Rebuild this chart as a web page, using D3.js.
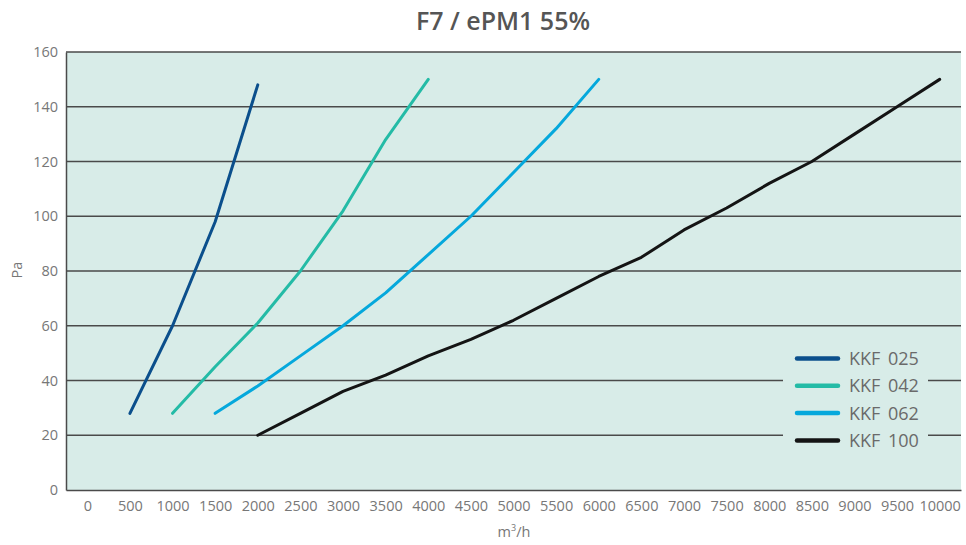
<!DOCTYPE html>
<html><head><meta charset="utf-8">
<script src="https://cdn.jsdelivr.net/npm/d3@7"></script>
<style>body{margin:0;background:#fff}svg{display:block}text{font-family:"Open Sans",sans-serif}</style>
</head><body>
<script>
const title = "F7 / ePM1 55%";
const yLabel = "Pa";
const xLabelMain = "m";
const xTicks = [0,500,1000,1500,2000,2500,3000,3500,4000,4500,5000,5500,6000,6500,7000,7500,8000,8500,9000,9500,10000];
const yTicks = [0,20,40,60,80,100,120,140,160];
const seriesNames = ["KKF 025","KKF 042","KKF 062","KKF 100"];
const seriesColors = ["#0b4f8c","#24bba6","#05a8dc","#141414"];
const kkf025 = [[500,28],[1000,60],[1500,98],[2000,148]];
const kkf042 = [[1000,28],[1500,45],[2000,61],[2500,80],[3000,102],[3500,128],[4000,150]];
const kkf062 = [[1500,28],[2000,38],[2500,49],[3000,60],[3500,72],[4000,86],[4500,100],[5000,116],[5500,132],[6000,150]];
const kkf100 = [[2000,20],[2500,28],[3000,36],[3500,42],[4000,49],[4500,55],[5000,62],[5500,70],[6000,78],[6500,85],[7000,95],[7500,103],[8000,112],[8500,120],[9000,130],[9500,140],[10000,150]];
const seriesData = [kkf025,kkf042,kkf062,kkf100];

const W=966,H=545;
const L=66,R=961,T=52,B=490;
const svg=d3.select("body").append("svg").attr("width",W).attr("height",H);
const x=d3.scaleLinear().domain([-250,10250]).range([L,R]);
const y=d3.scaleLinear().domain([0,160]).range([B,T]);

svg.append("rect").attr("x",L).attr("y",T).attr("width",R-L).attr("height",B-T).attr("fill","#d8ece8");

// grid
svg.append("g").selectAll("line").data(yTicks.filter(d=>d>0)).join("line")
  .attr("x1",L).attr("x2",R).attr("y1",d=>y(d)).attr("y2",d=>y(d))
  .attr("stroke","#4a4a4a").attr("stroke-width",1.3);

// axes
const ya=svg.append("g").attr("transform",`translate(${L},0)`)
  .call(d3.axisLeft(y).tickValues(yTicks).tickSize(0).tickPadding(8));
ya.select(".domain").attr("stroke","#4a4a4a").attr("stroke-width",1.5);
ya.selectAll("text").attr("fill","#777").attr("font-size",14.5).attr("font-family","Open Sans");

const xa=svg.append("g").attr("transform",`translate(0,${B})`)
  .call(d3.axisBottom(x).tickValues(xTicks).tickFormat(d3.format("d")).tickSize(0).tickPadding(11));
xa.select(".domain").attr("stroke","#4a4a4a").attr("stroke-width",1.5);
xa.selectAll("text").attr("fill","#777").attr("font-size",14.5).attr("font-family","Open Sans");

// title
svg.append("text").attr("x",503).attr("y",30).attr("text-anchor","middle")
  .attr("font-size",25).attr("font-weight",600).attr("fill","#555").text(title);

// y label
svg.append("text").attr("transform","translate(22,270) rotate(-90)").attr("text-anchor","middle")
  .attr("font-size",14.5).attr("fill","#777").text(yLabel);
// x label
const xl=svg.append("text").attr("x",514).attr("y",537).attr("text-anchor","middle")
  .attr("font-size",14.5).attr("fill","#777");
xl.append("tspan").text(xLabelMain);
xl.append("tspan").attr("font-size",9).attr("dy",-6).text("3");
xl.append("tspan").attr("dy",6).text("/h");

// lines
const line=d3.line().x(d=>x(d[0])).y(d=>y(d[1]));
svg.append("g").selectAll("path").data(seriesData).join("path")
  .attr("d",line).attr("fill","none").attr("stroke",(d,i)=>seriesColors[i])
  .attr("stroke-width",3).attr("stroke-linejoin","round").attr("stroke-linecap","round");

// legend
const lg=svg.append("g");
lg.append("rect").attr("x",783).attr("y",342).attr("width",145).attr("height",108).attr("fill","#d8ece8");
const rows=lg.selectAll("g").data(seriesNames).join("g")
  .attr("transform",(d,i)=>`translate(0,${358.5+i*27.3})`);
rows.append("line").attr("x1",797).attr("x2",838).attr("y1",0).attr("y2",0)
  .attr("stroke",(d,i)=>seriesColors[i]).attr("stroke-width",4.5).attr("stroke-linecap","round");
rows.append("text").attr("x",849).attr("y",0).attr("dy","0.36em").attr("font-size",18)
  .attr("word-spacing",3).attr("fill","#6a6a6a").text(d=>d);
</script>
</body></html>
